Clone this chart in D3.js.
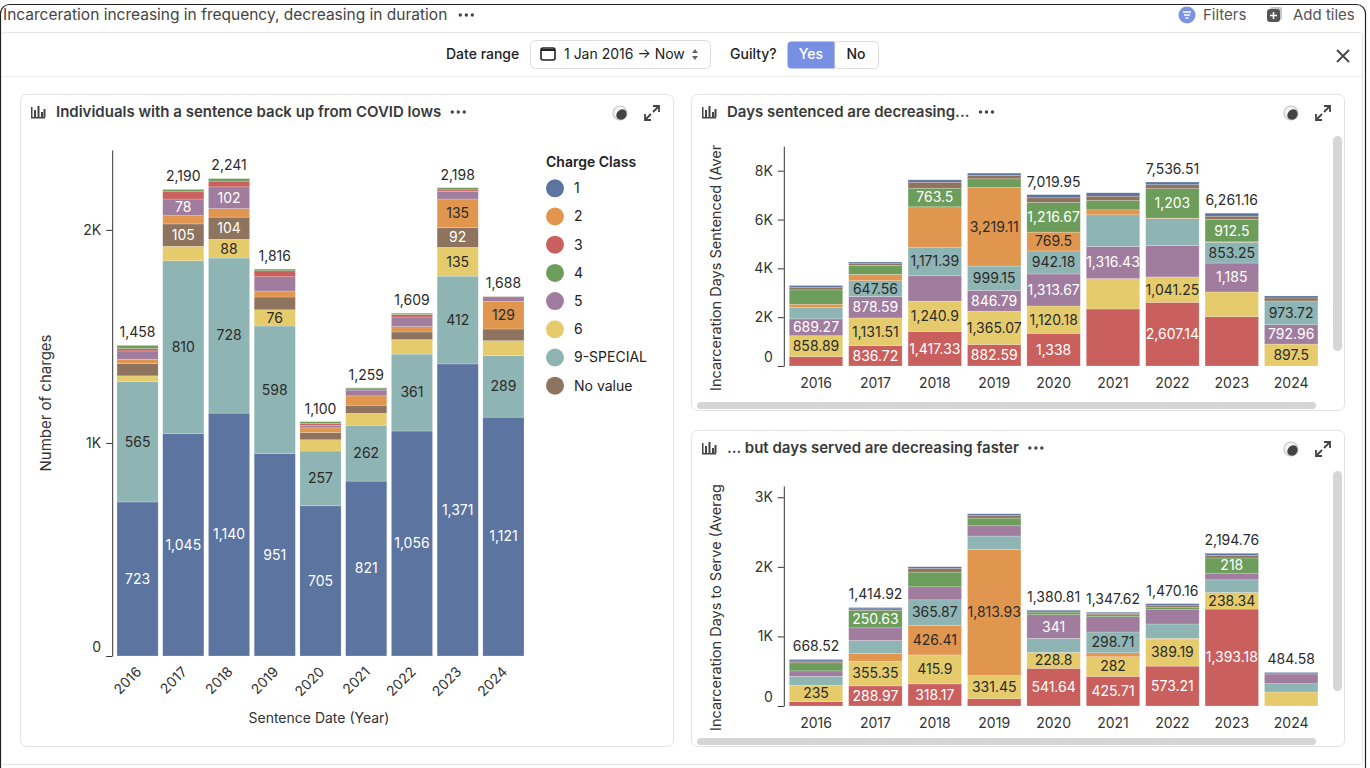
<!DOCTYPE html>
<html><head><meta charset="utf-8">
<script src="https://cdn.jsdelivr.net/npm/d3@7"></script>
<style>
html,body{margin:0;padding:0;background:#fff;overflow:hidden}
svg{display:block;font-family:Inter,"Noto Sans",sans-serif}
</style></head><body>
<svg id="c" width="1370" height="768"></svg>
<script>
// ---------- DATA ----------
const years = ["2016","2017","2018","2019","2020","2021","2022","2023","2024"];
const classes = ["1","2","3","4","5","6","9-SPECIAL","No value"];
const classColors = ["#5B74A0","#E0964F","#C9605E","#6C9D5B","#A07D9E","#E5CB6B","#8EB4B4","#8E735E"];

// Chart 1: Number of charges
const chargesClass1  = [723,1045,1140,951,705,821,1056,1371,1121];
const chargesClass2  = [20,39,40,28,22,44,25,135,129];
const chargesClass3  = [11,34,27,28,9,6,12,8,1];
const chargesClass4  = [15,11,12,8,9,5,6,10,1];
const chargesClass5  = [40,78,102,67,11,27,45,35,22];
const chargesClass6  = [27,68,88,76,53,56,68,135,70];
const chargesClass9  = [565,810,728,598,257,262,361,412,289];
const chargesNoValue = [57,105,104,60,34,38,36,92,55];
const chargesOrder = ["1","9-SPECIAL","6","No value","2","5","3","4"];
const chargesLabelled = ["2016:1","2016:9-SPECIAL","2017:1","2017:9-SPECIAL","2017:No value","2017:5",
 "2018:1","2018:9-SPECIAL","2018:6","2018:No value","2018:5","2019:1","2019:9-SPECIAL","2019:6",
 "2020:1","2020:9-SPECIAL","2021:1","2021:9-SPECIAL","2022:1","2022:9-SPECIAL",
 "2023:1","2023:9-SPECIAL","2023:6","2023:No value","2023:2","2024:1","2024:9-SPECIAL","2024:2"];
const chargesTotalsShown = years;

// Chart 2: Incarceration days sentenced (average)
const sentClass1  = [82,68,96,96,129.75,137,109,123,82];
const sentClass2  = [137,260,1653,3219.11,769.5,205,22.12,17.41,0];
const sentClass3  = [382,836.72,1417.33,882.59,1338,2336,2607.14,2022,0];
const sentClass4  = [587,369,763.5,355,1216.67,382,1203,912.5,0];
const sentClass5  = [689.27,878.59,1038,846.79,1313.67,1316.43,1284,1185,792.96];
const sentClass6  = [858.89,1131.51,1240.9,1365.07,1120.18,1243,1041.25,1011,897.5];
const sentClass9  = [464,647.56,1171.39,999.15,942.18,1298,1106,853.25,973.72];
const sentNoValue = [96,68,246,137,190,178,164,137,123];
const sentOrder = ["3","6","5","9-SPECIAL","2","4","No value","1"];
const sentLabelled = ["2016:6","2016:5","2017:3","2017:6","2017:5","2017:9-SPECIAL",
 "2018:3","2018:6","2018:9-SPECIAL","2018:4","2019:3","2019:6","2019:5","2019:9-SPECIAL","2019:2",
 "2020:3","2020:6","2020:5","2020:9-SPECIAL","2020:2","2020:4","2021:5",
 "2022:3","2022:6","2022:4","2023:5","2023:9-SPECIAL","2023:4","2024:6","2024:5","2024:9-SPECIAL"];
const sentTotalsShown = ["2020","2022","2023"];

// Chart 3: Incarceration days to serve (average)
const servClass1  = [22.52,18.97,24,24,12.37,16.2,25.76,29.24,9.58];
const servClass2  = [0,110,426.41,1813.93,0,57,10,0,0];
const servClass3  = [62,288.97,318.17,105,541.64,425.71,573.21,1393.18,0];
const servClass4  = [115,250.63,211,110,38,28,30,218,0];
const servClass5  = [78,182,187,148,341,220,206,96,139];
const servClass6  = [235,355.35,415.9,331.45,228.8,282,389.19,238.34,201];
const servClass9  = [130,187,365.87,192,200,298.71,206,182,120];
const servNoValue = [26,22,53,38,19,20,30,38,15];
const servOrder = ["3","6","2","9-SPECIAL","5","4","No value","1"];
const servLabelled = ["2016:6","2017:3","2017:6","2017:4","2018:3","2018:6","2018:2","2018:9-SPECIAL",
 "2019:6","2019:2","2020:3","2020:6","2020:5","2021:3","2021:6","2021:9-SPECIAL",
 "2022:3","2022:6","2023:3","2023:6","2023:4"];
const servTotalsShown = ["2016","2017","2020","2021","2022","2023","2024"];

// ---------- HELPERS ----------
const svg = d3.select("#c");
const color = d3.scaleOrdinal(classes, classColors);
const darkText = new Set(["2","6","9-SPECIAL"]);
const fmt = d3.format(",.2~f");
const INK = "#333";

function rows(series){
  return years.map((y,i)=>{ const r={year:y}; classes.forEach(c=>r[c]=series[c][i]); return r; });
}
const chargesRows = rows({"1":chargesClass1,"2":chargesClass2,"3":chargesClass3,"4":chargesClass4,"5":chargesClass5,"6":chargesClass6,"9-SPECIAL":chargesClass9,"No value":chargesNoValue});
const sentRows = rows({"1":sentClass1,"2":sentClass2,"3":sentClass3,"4":sentClass4,"5":sentClass5,"6":sentClass6,"9-SPECIAL":sentClass9,"No value":sentNoValue});
const servRows = rows({"1":servClass1,"2":servClass2,"3":servClass3,"4":servClass4,"5":servClass5,"6":servClass6,"9-SPECIAL":servClass9,"No value":servNoValue});

function dots(g,x,y){ [0,6,12].forEach(d=>g.append("circle").attr("cx",x+d).attr("cy",y).attr("r",1.7).attr("fill","#444")); }
function barIcon(g,x,y){
  g.append("rect").attr("x",x).attr("y",y+12).attr("width",14).attr("height",1.5).attr("fill","#444");
  [[3,7],[6.5,11],[10,5],[12.5,8]].forEach(([dx,h])=>g.append("rect").attr("x",x+dx).attr("y",y+12-h).attr("width",2).attr("height",h).attr("fill","#444"));
  g.append("rect").attr("x",x).attr("y",y+2).attr("width",1.5).attr("height",11).attr("fill","#444");
}
function cardIcons(g,x,y){
  g.append("circle").attr("cx",x).attr("cy",y).attr("r",7).attr("fill","#f4f4f4").attr("stroke","#c4c4c4").attr("stroke-width",1.2);
  g.append("path").attr("d",`M${x-3},${y+5} A6,6 0 0 1 ${x+5},${y-3} A5,5 0 0 1 ${x-3},${y+5}Z`).attr("fill","#444");
  const ex=x+32;
  const p=`M${ex+1},${y-7} L${ex+7},${y-7} L${ex+7},${y-1} M${ex+7},${y-7} L${ex+1},${y-1} M${ex-7},${y+1} L${ex-7},${y+7} L${ex-1},${y+7} M${ex-7},${y+7} L${ex-1},${y+1}`;
  g.append("path").attr("d",p).attr("fill","none").attr("stroke","#444").attr("stroke-width",1.8);
}
function card(x,y,w,h,title){
  const g=svg.append("g");
  g.append("rect").attr("x",x+0.5).attr("y",y+0.5).attr("width",w).attr("height",h).attr("rx",6).attr("fill","#fff").attr("stroke","#e2e2e2");
  barIcon(g,x+11,y+11);
  const t=g.append("text").attr("x",x+36).attr("y",y+23).attr("font-size",15).attr("font-weight",600).attr("fill","#3a3a3a").text(title);
  const tw=t.node().getComputedTextLength();
  dots(g,x+36+tw+11,y+18);
  cardIcons(g,x+w-53,y+19);
  return g;
}

function stacked(opts){
  const {rowsData, order, xRange, yDomain, yRange, ticks, labelled, totalsShown, rotate, labelSize} = opts;
  const g=svg.append("g");
  const x=d3.scaleBand().domain(years).range(xRange).paddingInner(0.1).paddingOuter(0.05);
  const y=d3.scaleLinear().domain(yDomain).range(yRange);
  const stack=d3.stack().keys(order)(rowsData);
  const lab=new Set(labelled);
  const layers=g.selectAll("g.layer").data(stack).join("g").attr("fill",d=>color(d.key));
  layers.selectAll("rect").data(d=>d.map(v=>({v,key:d.key}))).join("rect")
    .attr("x",d=>x(d.v.data.year)).attr("width",x.bandwidth())
    .attr("y",d=>y(d.v[1])).attr("height",d=>Math.max(0,y(d.v[0])-y(d.v[1])))
    .attr("stroke","rgba(255,255,255,0.35)").attr("stroke-width",0.6);
  const segs=[];
  stack.forEach(l=>l.forEach(v=>{ if(lab.has(v.data.year+":"+l.key)) segs.push({v,key:l.key}); }));
  g.selectAll("text.seg").data(segs).join("text").attr("class","seg")
    .attr("x",d=>x(d.v.data.year)+x.bandwidth()/2).attr("y",d=>(y(d.v[0])+y(d.v[1]))/2)
    .attr("dy","0.35em").attr("text-anchor","middle").attr("font-size",labelSize)
    .attr("fill",d=>darkText.has(d.key)?"#2b2b2b":"#fff").text(d=>fmt(d.v.data[d.key]));
  const tots=rowsData.filter(r=>totalsShown.includes(r.year)).map(r=>({year:r.year,t:d3.sum(order,k=>r[k])}));
  g.selectAll("text.tot").data(tots).join("text")
    .attr("x",d=>x(d.year)+x.bandwidth()/2).attr("y",d=>y(d.t)-13).attr("dy","0.35em")
    .attr("text-anchor","middle").attr("font-size",14).attr("fill","#2b2b2b").text(d=>fmt(d.t));
  const ax=g.append("g").attr("transform",`translate(${xRange[0]-2.5},0)`)
    .call(d3.axisLeft(y).tickValues(ticks).tickSize(6).tickPadding(5).tickSizeOuter(0)
      .tickFormat(d=>d===0?"0":(d/1000)+"K"));
  ax.attr("font-family",null);
  ax.selectAll("path,line").attr("stroke",INK);
  ax.selectAll("text").attr("font-size",14).attr("fill",INK);
  ax.selectAll(".tick").filter(d=>d===0).select("text").attr("dy","-0.35em");
  const xl=g.selectAll("text.xl").data(years).join("text").attr("font-size",14).attr("fill",INK).text(d=>d);
  if(rotate){
    xl.attr("text-anchor","end").attr("dominant-baseline","middle")
      .attr("transform",d=>`translate(${x(d)+x.bandwidth()/2+2},${yRange[0]+14}) rotate(-45)`);
  } else {
    xl.attr("text-anchor","middle").attr("x",d=>x(d)+x.bandwidth()/2).attr("y",yRange[0]+17).attr("dy","0.35em");
  }
  return {g,x,y};
}

// ---------- FRAME ----------
svg.append("rect").attr("x",0.5).attr("y",4.5).attr("width",1365).attr("height",820).attr("rx",9).attr("fill","#fff").attr("stroke","#222").attr("stroke-width",1.2);
const ht=svg.append("text").attr("x",3).attr("y",20).attr("font-size",15.5).attr("fill","#444").text("Incarceration increasing in frequency, decreasing in duration");
dots(svg,3+ht.node().getComputedTextLength()+13,15);
svg.append("circle").attr("cx",1187).attr("cy",15).attr("r",8.5).attr("fill","#7A93E3");
[[-4,4,-3],[-3,3,0],[-1.5,1.5,3]].forEach(([a,b,yy])=>svg.append("line").attr("x1",1187+a).attr("x2",1187+b).attr("y1",15+yy).attr("y2",15+yy).attr("stroke","#fff").attr("stroke-width",1.5));
svg.append("text").attr("x",1203).attr("y",20).attr("font-size",15).attr("fill","#555").text("Filters");
svg.append("rect").attr("x",1270).attr("y",7).attr("width",12).attr("height",13).attr("rx",2).attr("fill","#c8c8c8");
svg.append("rect").attr("x",1267).attr("y",9).attr("width",13).attr("height",13).attr("rx",3).attr("fill","#555");
svg.append("path").attr("d","M1273.5,12 V19 M1270,15.5 H1277").attr("stroke","#fff").attr("stroke-width",1.6);
svg.append("text").attr("x",1293).attr("y",20).attr("font-size",15).attr("fill","#555").text("Add tiles");

svg.append("rect").attr("x",1.5).attr("y",32.5).attr("width",1361).attr("height",732).attr("rx",3).attr("fill","#fff").attr("stroke","#e4e4e4");
svg.append("line").attr("x1",2).attr("x2",1362).attr("y1",76.5).attr("y2",76.5).attr("stroke","#ececec");
svg.append("text").attr("x",446).attr("y",59).attr("font-size",14).attr("font-weight",500).attr("fill","#222").text("Date range");
svg.append("rect").attr("x",530.5).attr("y",40.5).attr("width",180).attr("height",28).attr("rx",5).attr("fill","#fff").attr("stroke","#dcdcdc");
svg.append("rect").attr("x",541).attr("y",48).attr("width",14).attr("height",12).attr("rx",2).attr("fill","none").attr("stroke","#222").attr("stroke-width",1.6);
svg.append("line").attr("x1",541).attr("x2",555).attr("y1",50).attr("y2",50).attr("stroke","#222").attr("stroke-width",2);
svg.append("text").attr("x",564).attr("y",59).attr("font-size",14).attr("fill","#222").text("1 Jan 2016 → Now");
svg.append("path").attr("d","M692,53 L695,49 L698,53Z M692,56 L695,60 L698,56Z").attr("fill","#666");
svg.append("text").attr("x",730).attr("y",59).attr("font-size",14).attr("font-weight",500).attr("fill","#222").text("Guilty?");
svg.append("rect").attr("x",834.5).attr("y",41.5).attr("width",44).attr("height",27).attr("rx",4).attr("fill","#fff").attr("stroke","#dcdcdc");
svg.append("path").attr("d","M791.5,41.5 H834.5 V68.5 H791.5 Q787.5,68.5 787.5,64.5 V45.5 Q787.5,41.5 791.5,41.5Z").attr("fill","#7790E4");
svg.append("text").attr("x",811).attr("y",59).attr("text-anchor","middle").attr("font-size",14).attr("font-weight",500).attr("fill","#fff").text("Yes");
svg.append("text").attr("x",856).attr("y",59).attr("text-anchor","middle").attr("font-size",14).attr("font-weight",500).attr("fill","#222").text("No");
svg.append("path").attr("d","M1337,50 L1349,62 M1349,50 L1337,62").attr("stroke","#444").attr("stroke-width",1.8);

// ---------- CHART 1 ----------
card(20,94,653,652,"Individuals with a sentence back up from COVID lows");
stacked({rowsData:chargesRows, order:chargesOrder, xRange:[114.7,526.3], yDomain:[0,2375], yRange:[656,150],
  ticks:[0,1000,2000], labelled:chargesLabelled, totalsShown:chargesTotalsShown, rotate:true, labelSize:14});
svg.append("text").attr("transform","translate(51,403) rotate(-90)").attr("text-anchor","middle").attr("font-size",15).attr("fill",INK).text("Number of charges");
svg.append("text").attr("x",319).attr("y",723).attr("text-anchor","middle").attr("font-size",14).attr("fill",INK).text("Sentence Date (Year)");
const lg=svg.append("g").attr("transform","translate(546,0)");
lg.append("text").attr("x",0).attr("y",167).attr("font-size",14).attr("font-weight",600).attr("fill","#222").text("Charge Class");
const li=lg.selectAll("g.li").data(classes).join("g").attr("transform",(d,i)=>`translate(0,${188.3+i*28.2})`);
li.append("circle").attr("cx",9).attr("cy",0).attr("r",9).attr("fill",d=>color(d));
li.append("text").attr("x",28).attr("y",0).attr("dy","0.35em").attr("font-size",14).attr("fill","#222").text(d=>d);

// ---------- CHART 2 ----------
card(691,94,653,316,"Days sentenced are decreasing...");
const defs=svg.append("defs");
defs.append("clipPath").attr("id","clipA").append("rect").attr("x",695).attr("y",145).attr("width",60).attr("height",255);
defs.append("clipPath").attr("id","clipB").append("rect").attr("x",695).attr("y",485).attr("width",60).attr("height",251);
stacked({rowsData:sentRows, order:sentOrder, xRange:[786.3,1320.9], yDomain:[0,9000], yRange:[366,146.3],
  ticks:[0,2000,4000,6000,8000], labelled:sentLabelled, totalsShown:sentTotalsShown, rotate:false, labelSize:14});
svg.append("g").attr("clip-path","url(#clipA)").append("text").attr("transform","translate(721,391) rotate(-90)").attr("font-size",14.5).attr("fill",INK).text("Incarceration Days Sentenced (Average)");
svg.append("rect").attr("x",1333).attr("y",136).attr("width",9).attr("height",215).attr("rx",4.5).attr("fill","#d6d6d6");
svg.append("rect").attr("x",697).attr("y",402).attr("width",619).attr("height",7).attr("rx",3.5).attr("fill","#d6d6d6");

// ---------- CHART 3 ----------
card(691,430,653,316,"... but days served are decreasing faster");
stacked({rowsData:servRows, order:servOrder, xRange:[786.3,1320.9], yDomain:[0,3162], yRange:[706,486],
  ticks:[0,1000,2000,3000], labelled:servLabelled, totalsShown:servTotalsShown, rotate:false, labelSize:14});
svg.append("g").attr("clip-path","url(#clipB)").append("text").attr("transform","translate(721,731) rotate(-90)").attr("font-size",14.5).attr("fill",INK).text("Incarceration Days to Serve (Average)");
svg.append("rect").attr("x",1333).attr("y",471).attr("width",9).attr("height",220).attr("rx",4.5).attr("fill","#d6d6d6");
svg.append("rect").attr("x",697).attr("y",738).attr("width",619).attr("height",7).attr("rx",3.5).attr("fill","#d6d6d6");
</script>
</body></html>
